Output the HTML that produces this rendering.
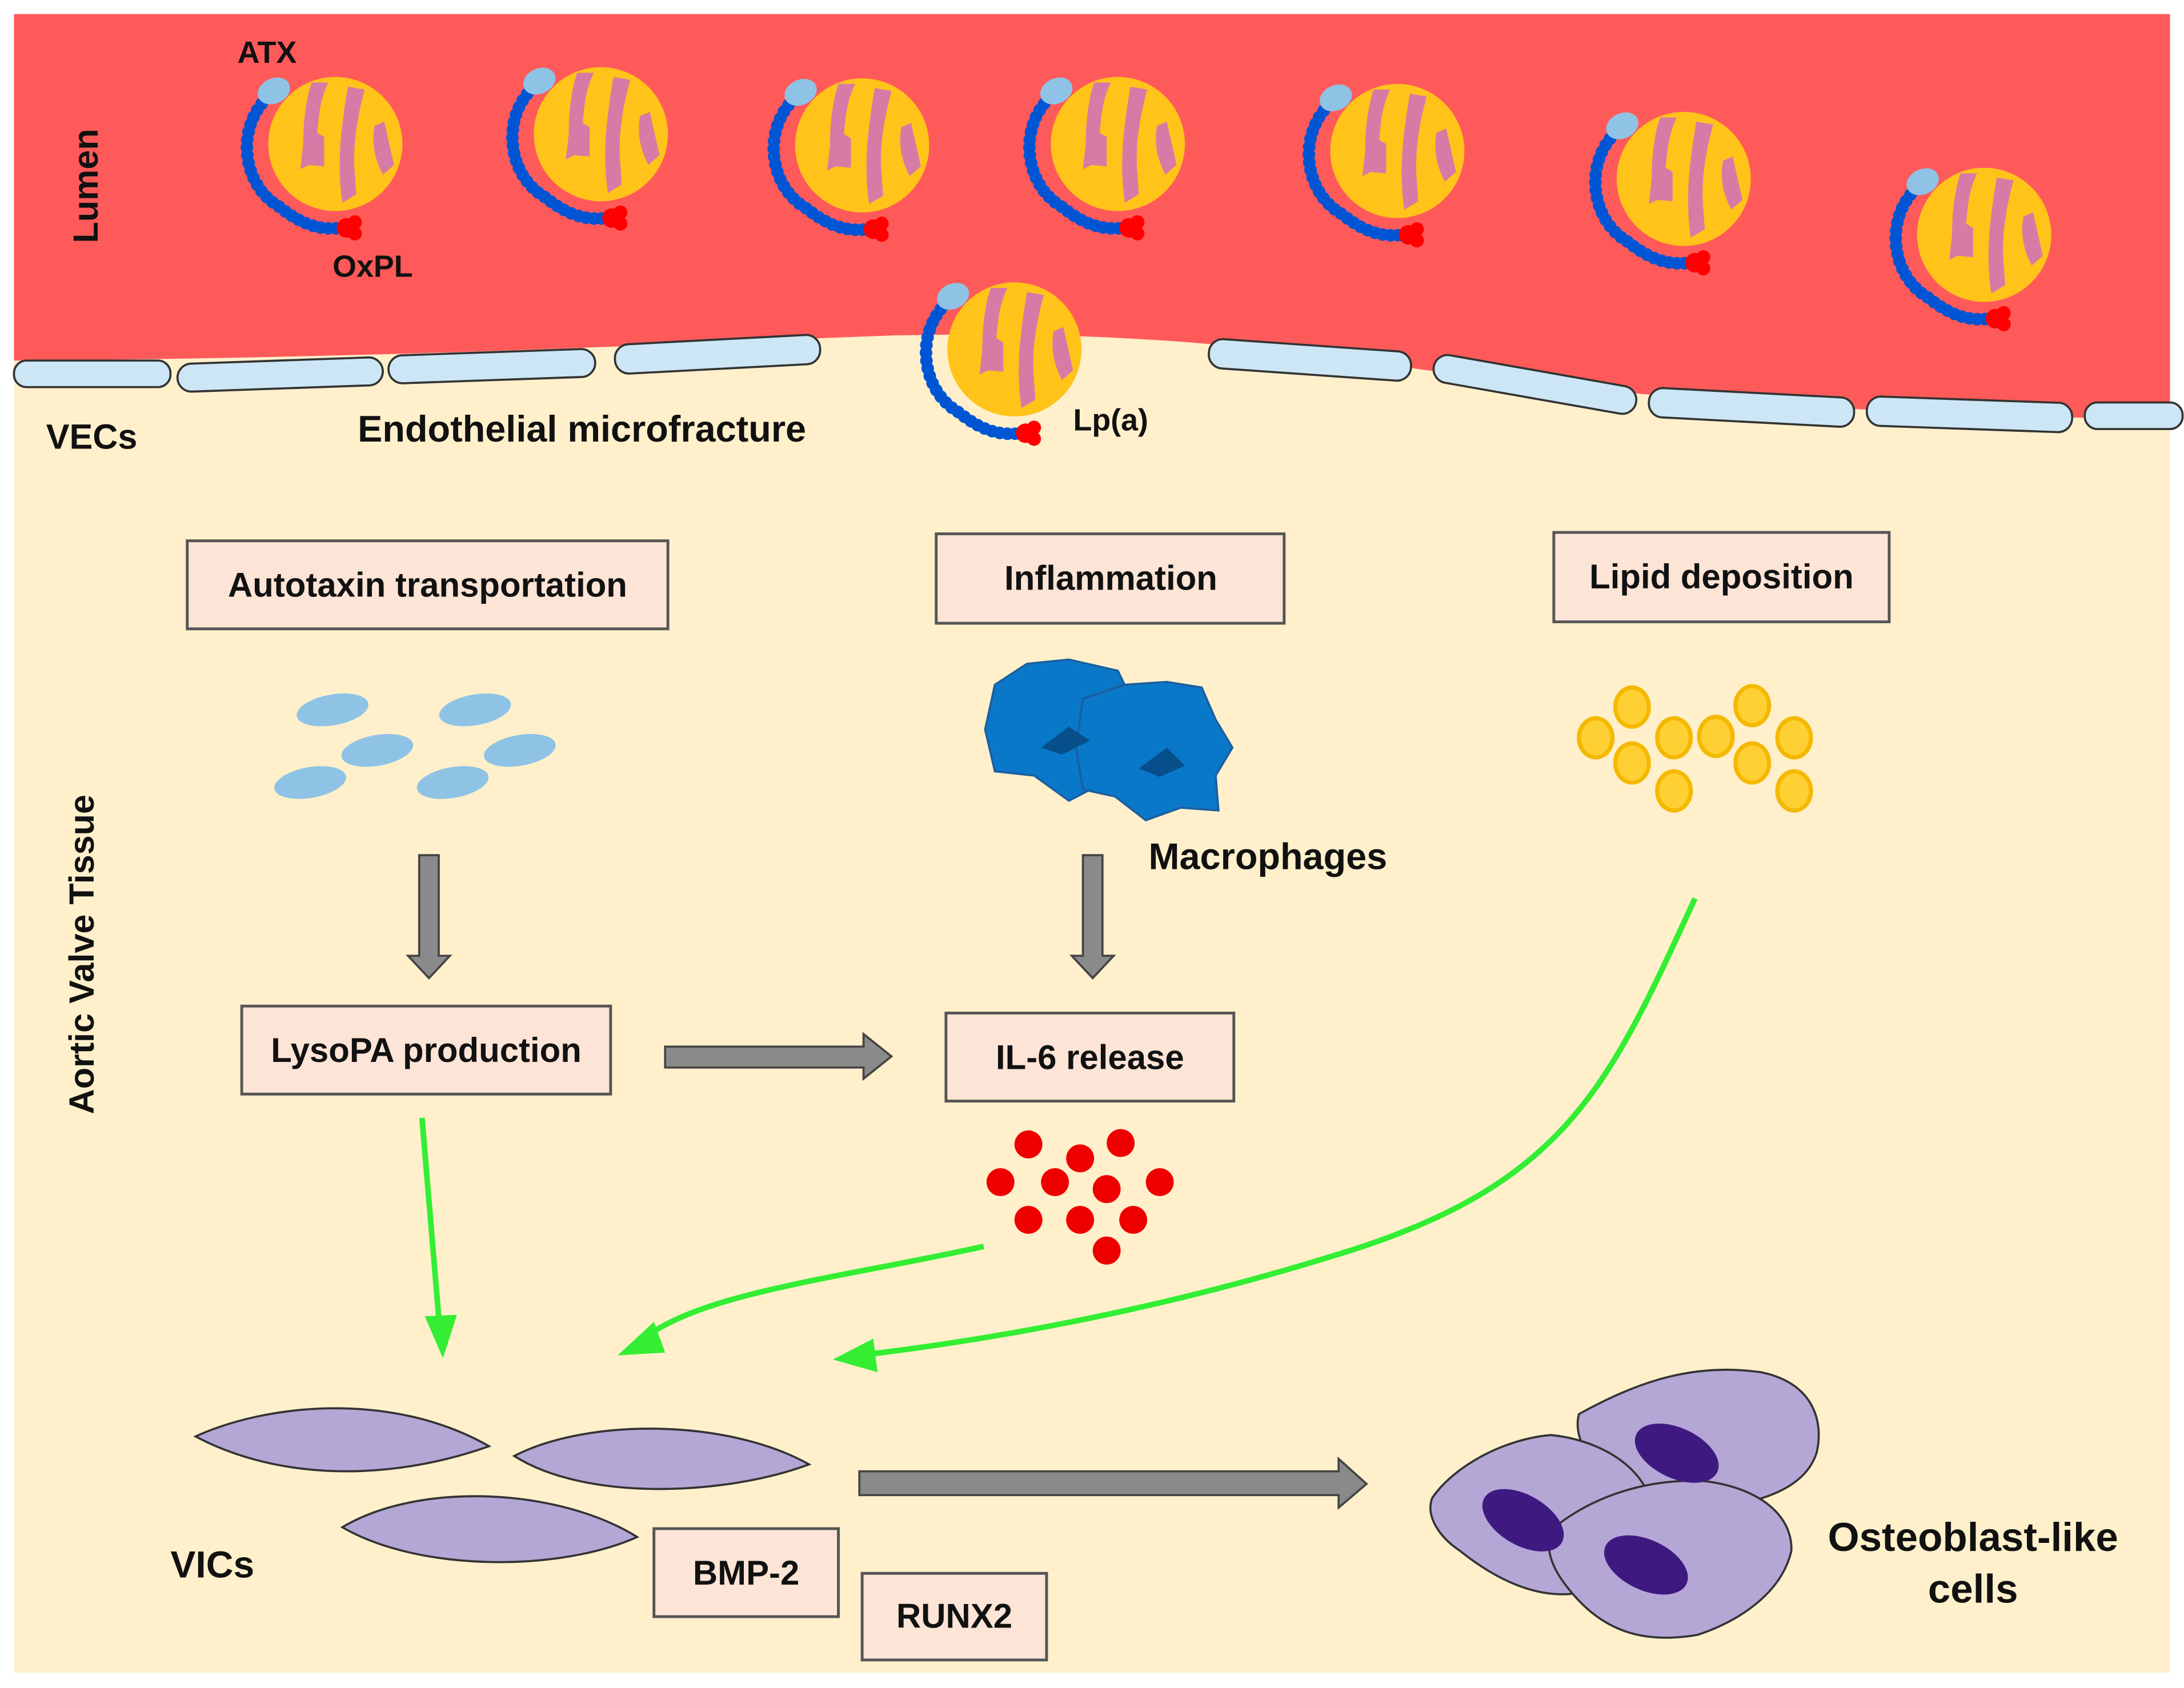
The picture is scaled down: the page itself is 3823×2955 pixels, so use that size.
<!DOCTYPE html>
<html><head><meta charset="utf-8"><style>
html,body{margin:0;padding:0;background:#fff;}
svg{display:block;}
text{font-family:"Liberation Sans",sans-serif;font-weight:bold;fill:#111;}
</style></head><body>
<svg width="3823" height="2955" viewBox="0 0 1563 1208" xmlns="http://www.w3.org/2000/svg">
<defs>
<g id="lp">
  <path d="M-49,-33 C-72,-10 -66,30 -40,45 C-25,57 -12,62 4,60" fill="none" stroke="#0055D4" stroke-width="9" stroke-dasharray="0.1 5.5" stroke-linecap="round"/>
  <path d="M-49,-33 C-72,-10 -66,30 -40,45 C-25,57 -12,62 4,60" fill="none" stroke="#0055D4" stroke-width="7"/>
  <ellipse cx="-44" cy="-38" rx="12" ry="9" fill="#8EC3E6" transform="rotate(-25 -44 -38)"/>
  <circle cx="0" cy="0" r="48" fill="#FFC31A"/>
  <path d="M-17,-44 L-5,-44 C-12,-30 -12,-15 -13,-8 L-8,-5 L-8,16 L-19,15 L-25,18 L-23,0 C-23,-20 -20,-35 -17,-44Z" fill="#D67BA6"/>
  <path d="M9,-41 L21,-39 C16,-20 12,0 14,22 L15,36 L5,42 C2,20 2,0 9,-41Z" fill="#D67BA6"/>
  <path d="M28,-13 L35,-16 L42,15 L34,22 C28,10 26,0 28,-13Z" fill="#D67BA6"/>
  <circle cx="8" cy="60" r="7" fill="#FF0000"/><circle cx="14" cy="56" r="5" fill="#FF0000"/><circle cx="14" cy="64" r="5" fill="#FF0000"/>
</g>
</defs>
<rect x="0" y="0" width="1563" height="1208" fill="#fff"/>
<rect x="10" y="10" width="1543" height="1187" fill="#FFF0CB"/>
<path d="M10,10 H1553 V300 C1400,298 1200,290 1000,262 C850,240 750,238 640,240 C500,245 300,256 10,258 Z" fill="#FF5A5A"/>
<g fill="#CCE6F5" stroke="#333" stroke-width="1.5">
 <rect x="10" y="258" width="112" height="19" rx="9"/>
 <rect x="127" y="258" width="147" height="20" rx="10" transform="rotate(-2 200 268)"/>
 <rect x="278" y="252" width="148" height="20" rx="10" transform="rotate(-2 352 262)"/>
 <rect x="440" y="243" width="147" height="21" rx="10" transform="rotate(-3 513 253)"/>
 <rect x="865" y="247" width="145" height="21" rx="10" transform="rotate(4 937 257)"/>
 <rect x="1025" y="265" width="147" height="20" rx="10" transform="rotate(10 1098 275)"/>
 <rect x="1180" y="281" width="147" height="21" rx="10" transform="rotate(3 1253 291)"/>
 <rect x="1336" y="286" width="147" height="21" rx="10" transform="rotate(2 1410 296)"/>
 <rect x="1492" y="288" width="70" height="19" rx="9"/>
</g>
<use href="#lp" transform="translate(240,103)"/>
<use href="#lp" transform="translate(430,96)"/>
<use href="#lp" transform="translate(617,104)"/>
<use href="#lp" transform="translate(800,103)"/>
<use href="#lp" transform="translate(1000,108)"/>
<use href="#lp" transform="translate(1205,128)"/>
<use href="#lp" transform="translate(1420,168)"/>
<use href="#lp" transform="translate(726,250)"/>
<text x="170" y="45" font-size="22">ATX</text>
<text x="238" y="198" font-size="22">OxPL</text>
<text x="768" y="308" font-size="22">Lp(a)</text>
<text x="70" y="133" font-size="25" transform="rotate(-90 70 133)" text-anchor="middle">Lumen</text>
<text x="33" y="321" font-size="25">VECs</text>
<text x="256" y="316" font-size="26.5">Endothelial microfracture</text>
<text x="67" y="683" font-size="25" transform="rotate(-90 67 683)" text-anchor="middle">Aortic Valve Tissue</text>
<g fill="#FCE4D6" stroke="#555" stroke-width="2">
 <rect x="134" y="387" width="344" height="63"/>
 <rect x="670" y="382" width="249" height="64"/>
 <rect x="1112" y="381" width="240" height="64"/>
 <rect x="173" y="720" width="264" height="63"/>
 <rect x="677" y="725" width="206" height="63"/>
 <rect x="468" y="1094" width="132" height="63"/>
 <rect x="617" y="1126" width="132" height="62"/>
</g>
<g font-size="24.5" text-anchor="middle">
 <text x="306" y="427">Autotaxin transportation</text>
 <text x="795" y="422">Inflammation</text>
 <text x="1232" y="421">Lipid deposition</text>
 <text x="305" y="760">LysoPA production</text>
 <text x="780" y="765">IL-6 release</text>
 <text x="534" y="1134">BMP-2</text>
 <text x="683" y="1165">RUNX2</text>
</g>
<text x="822" y="622" font-size="26.5">Macrophages</text>
<text x="122" y="1129" font-size="27">VICs</text>
<text x="1412" y="1110" font-size="29" text-anchor="middle">Osteoblast-like</text>
<text x="1412" y="1147" font-size="29" text-anchor="middle">cells</text>
<g fill="#8EC3E6">
 <ellipse cx="238" cy="508" rx="26" ry="11" transform="rotate(-10 238 508)"/>
 <ellipse cx="340" cy="508" rx="26" ry="11" transform="rotate(-10 340 508)"/>
 <ellipse cx="270" cy="537" rx="26" ry="11" transform="rotate(-10 270 537)"/>
 <ellipse cx="372" cy="537" rx="26" ry="11" transform="rotate(-10 372 537)"/>
 <ellipse cx="222" cy="560" rx="26" ry="11" transform="rotate(-10 222 560)"/>
 <ellipse cx="324" cy="560" rx="26" ry="11" transform="rotate(-10 324 560)"/>
</g>
<g stroke="#1a5fa0" stroke-width="1.5" fill="#0A78C8">
 <path d="M712,490 L735,475 L765,472 L800,480 L812,505 L800,535 L790,560 L765,573 L740,555 L712,552 L705,522 Z"/>
 <path d="M775,500 L805,490 L835,488 L860,492 L870,515 L882,535 L870,555 L872,580 L845,578 L820,587 L798,570 L775,565 L770,535 Z"/>
</g>
<path d="M745,535 L765,520 L780,530 L760,540Z" fill="#064f8a"/>
<path d="M815,550 L835,535 L848,548 L830,556Z" fill="#064f8a"/>
<g fill="#FFD033" stroke="#F5B800" stroke-width="3">
 <ellipse cx="1168" cy="506" rx="12" ry="14"/><ellipse cx="1254" cy="505" rx="12" ry="14"/>
 <ellipse cx="1142" cy="528" rx="12" ry="14"/><ellipse cx="1198" cy="528" rx="12" ry="14"/>
 <ellipse cx="1228" cy="527" rx="12" ry="14"/><ellipse cx="1284" cy="528" rx="12" ry="14"/>
 <ellipse cx="1168" cy="546" rx="12" ry="14"/><ellipse cx="1254" cy="546" rx="12" ry="14"/>
 <ellipse cx="1198" cy="566" rx="12" ry="14"/><ellipse cx="1284" cy="566" rx="12" ry="14"/>
</g>
<g fill="#EE0000">
 <circle cx="736" cy="819" r="10"/><circle cx="802" cy="818" r="10"/>
 <circle cx="773" cy="829" r="10"/><circle cx="716" cy="846" r="10"/>
 <circle cx="755" cy="846" r="10"/><circle cx="792" cy="851" r="10"/>
 <circle cx="830" cy="846" r="10"/><circle cx="736" cy="873" r="10"/>
 <circle cx="773" cy="873" r="10"/><circle cx="811" cy="873" r="10"/>
 <circle cx="792" cy="895" r="10"/>
</g>
<g fill="#8A8A8A" stroke="#444" stroke-width="1.5">
 <path d="M300,612 H314 V684 H322 L307,700 L292,684 H300 Z"/>
 <path d="M775,612 H789 V684 H797 L782,700 L767,684 H775 Z"/>
 <path d="M476,749 H618 V740 L638,756 L618,772 V764 H476 Z"/>
 <path d="M615,1053 H958 V1044 L978,1062 L958,1079 V1070 H615 Z"/>
</g>
<g fill="none" stroke="#33EE33" stroke-width="4">
 <path d="M302,800 L315,955"/>
 <path d="M704,892 C600,915 500,925 458,960"/>
 <path d="M1213,643 C1150,780 1120,850 950,900 C820,940 700,960 615,970"/>
</g>
<g fill="#33EE33">
 <path d="M304,942 L317,972 L327,941 Z"/>
 <path d="M468,946 L442,970 L476,968 Z"/>
 <path d="M625,958 L596,973 L628,982 Z"/>
</g>
<g fill="#B4A7D6" stroke="#333" stroke-width="1.5">
 <path d="M140,1028 C190,1005 280,995 350,1035 C280,1060 200,1060 140,1028Z"/>
 <path d="M368,1042 C420,1015 520,1015 579,1048 C520,1070 420,1075 368,1042Z"/>
 <path d="M245,1093 C300,1060 400,1065 456,1100 C400,1125 300,1125 245,1093Z"/>
</g>
<g fill="#B4A7D6" stroke="#333" stroke-width="1.5">
 <path d="M1130,1012 C1170,990 1210,975 1260,982 C1300,990 1305,1020 1300,1040 C1290,1070 1250,1075 1230,1080 L1160,1070 C1140,1050 1125,1030 1130,1012Z"/>
 <path d="M1025,1072 C1040,1050 1075,1030 1110,1027 C1140,1030 1170,1045 1180,1070 C1175,1100 1160,1130 1130,1140 C1100,1145 1070,1130 1045,1110 C1030,1100 1020,1085 1025,1072Z"/>
 <path d="M1110,1095 C1140,1070 1180,1058 1220,1060 C1260,1065 1283,1085 1282,1110 C1275,1140 1245,1160 1215,1170 C1180,1176 1150,1170 1125,1140 C1112,1125 1105,1110 1110,1095Z"/>
</g>
<g fill="#3E1A80">
 <ellipse cx="1200" cy="1040" rx="32" ry="18" transform="rotate(25 1200 1040)"/>
 <ellipse cx="1090" cy="1088" rx="32" ry="18" transform="rotate(30 1090 1088)"/>
 <ellipse cx="1178" cy="1120" rx="32" ry="18" transform="rotate(25 1178 1120)"/>
</g>
</svg>
</body></html>
